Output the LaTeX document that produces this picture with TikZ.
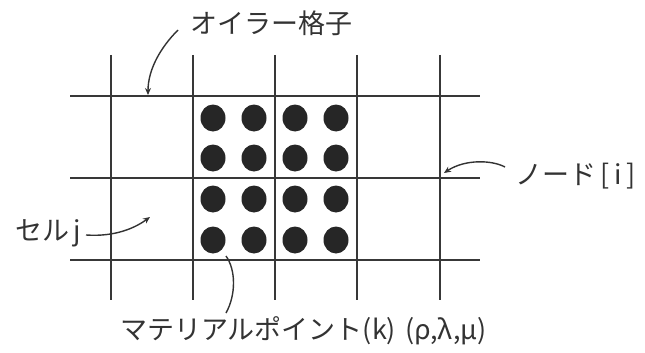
\documentclass[tikz,border=0pt]{standalone}
\usepackage{fontspec}
\newfontfamily\jpfont{Noto Sans CJK JP}
\usetikzlibrary{arrows.meta,shapes.geometric}

\begin{document}
\begin{tikzpicture}[x=1pt,y=-1pt,
  gridline/.style={line width=1.8pt, draw=black!78},
  mp/.style={ellipse, fill=black!85, inner sep=0pt, minimum width=25pt, minimum height=27pt},
  lbl/.style={font=\jpfont\fontsize{27}{30}\selectfont, text=black!80, inner sep=0pt, anchor=west},
  pointer/.style={line width=1.4pt, draw=black!80, -{Stealth[length=7pt,width=6pt]}},
  leader/.style={line width=1.4pt, draw=black!80}]
\useasboundingbox (0,0) rectangle (645,353);

% euler grid
\foreach \x in {111,193,275,357,440}
  \draw[gridline] (\x,55) -- (\x,300);
\foreach \y in {96,178,260}
  \draw[gridline] (70,\y) -- (480,\y);

% material points
\foreach \x [count=\c] in {213,254,295,336}
  \foreach \y [count=\r] in {118,158,199,240}
    \node[mp] (p\c\r) at (\x,\y) {};

% labels
\node[lbl] (euler) at (190,23) {オイラー格子};
\node[lbl] (nodei) at (515,176) {ノード\,[\,i\,]};
\node[lbl] (cellj) at (15,233) {セル\,j};
\node[lbl] (mat) at (120,331) {マテリアルポイント(k)\hspace{9pt}(ρ,λ,μ)};

\coordinate (euler from) at (178,30);
\coordinate (euler tip) at (148,95);
\coordinate (node from) at (505,167);
\coordinate (node tip) at (444,173);
\coordinate (cell from) at (86,235);
\coordinate (cell tip) at (150,217);
\coordinate (mat from) at (226,313);
\coordinate (mat tip) at (226,256);

\draw[pointer] (euler from) .. controls (160,48) and (148,70) .. (euler tip);
\draw[pointer] (node from) .. controls (492,160) and (465,159) .. (node tip);
\draw[pointer] (cell from) .. controls (115,237) and (135,228) .. (cell tip);
\draw[leader] (mat from) .. controls (236,295) and (236,270) .. (mat tip);
\end{tikzpicture}
\end{document}
